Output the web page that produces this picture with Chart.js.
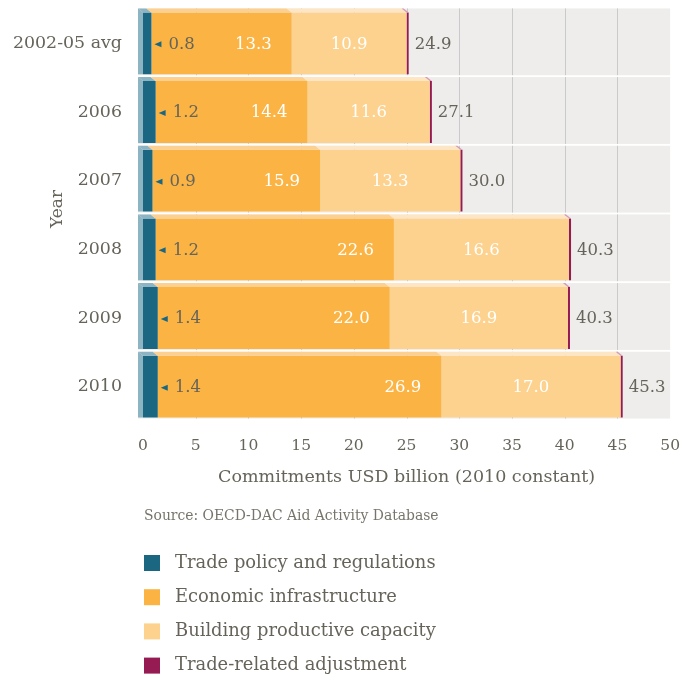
<!DOCTYPE html>
<html>
<head>
<meta charset="utf-8">
<script src="https://cdn.jsdelivr.net/npm/chart.js@4.4.1/dist/chart.umd.min.js"></script>
<style>
  body { margin: 0; background: #fff; }
  #wrap { width: 696px; height: 676px; }
</style>
</head>
<body>
<div id="wrap"><canvas id="chart"></canvas></div>
<script>
// valores
const anos = ['2002-05 avg', '2006', '2007', '2008', '2009', '2010'];
const politica = [0.8, 1.2, 0.9, 1.2, 1.4, 1.4];
const infraestrutura = [13.3, 14.4, 15.9, 22.6, 22.0, 26.9];
const capacidade = [10.9, 11.6, 13.3, 16.6, 16.9, 17.0];
const ajuste = [0.2, 0.2, 0.2, 0.2, 0.2, 0.2];
const totais = [24.9, 27.1, 30.0, 40.3, 40.3, 45.3];
const nomesSeries = ['Trade policy and regulations', 'Economic infrastructure',
                     'Building productive capacity', 'Trade-related adjustment'];
const fonte = 'Source: OECD-DAC Aid Activity Database';

const cores = ['#1b6781', '#fbb444', '#fdd28e', '#951b52'];
const coresTopo = ['#8db4c3', '#fdd08f', '#fee6c4', '#d79ab5'];
const corTexto = '#66645a';
const FONTE = '"DejaVu Serif", serif';

// faixas cinzentas atrás de cada categoria, com as linhas da grelha só dentro delas
const faixasPlugin = {
    id: 'faixas',
    beforeDatasetsDraw(chart) {
        const { ctx, chartArea } = chart;
        const y = chart.scales.y, x = chart.scales.x;
        const passo = (chartArea.bottom - chartArea.top) / anos.length;
        const meio = passo * 0.9 / 2;
        ctx.save();
        anos.forEach((a, i) => {
            const c = y.getPixelForValue(i);
            const t = c - meio - 4, b = c + meio + 1;
            ctx.fillStyle = '#eeedeb';
            ctx.fillRect(chartArea.left - 5, t, chartArea.right - chartArea.left + 5, b - t);
            ctx.strokeStyle = '#cacaca';
            ctx.lineWidth = 1;
            for (let v = 5; v < 50; v += 5) {
                const px = Math.round(x.getPixelForValue(v)) + 0.5;
                ctx.beginPath();
                ctx.moveTo(px, t);
                ctx.lineTo(px, b);
                ctx.stroke();
            }
        });
        ctx.restore();
    }
};

// efeito 3D, rótulos dos valores, título "Year", fonte e legenda
const rotulosPlugin = {
    id: 'rotulos',
    afterDatasetsDraw(chart) {
        const { ctx } = chart;
        const dx = 5, dy = 4;
        ctx.save();
        // faces superiores e lateral
        chart.data.datasets.forEach((ds, d) => {
            chart.getDatasetMeta(d).data.forEach(bar => {
                const xl = Math.min(bar.base, bar.x), xr = Math.max(bar.base, bar.x);
                const top = bar.y - bar.height / 2, bottom = bar.y + bar.height / 2;
                ctx.fillStyle = coresTopo[d];
                ctx.beginPath();
                ctx.moveTo(xl, top);
                ctx.lineTo(xr, top);
                ctx.lineTo(xr - dx, top - dy);
                ctx.lineTo(xl - dx, top - dy);
                ctx.closePath();
                ctx.fill();
                if (d === 0) {
                    ctx.beginPath();
                    ctx.moveTo(xl, top);
                    ctx.lineTo(xl - dx, top - dy);
                    ctx.lineTo(xl - dx, bottom);
                    ctx.lineTo(xl, bottom);
                    ctx.closePath();
                    ctx.fill();
                }
            });
        });

        ctx.font = '16.5px ' + FONTE;
        ctx.textBaseline = 'middle';
        const m0 = chart.getDatasetMeta(0).data;
        const m1 = chart.getDatasetMeta(1).data;
        const m2 = chart.getDatasetMeta(2).data;
        const m3 = chart.getDatasetMeta(3).data;
        anos.forEach((a, i) => {
            const yc = m0[i].y + 1;
            // marcador + valor da política comercial
            const xt = m0[i].x + 3;
            ctx.fillStyle = cores[0];
            ctx.beginPath();
            ctx.moveTo(xt, yc);
            ctx.lineTo(xt + 7, yc - 3);
            ctx.lineTo(xt + 7, yc + 3);
            ctx.closePath();
            ctx.fill();
            ctx.fillStyle = corTexto;
            ctx.textAlign = 'left';
            ctx.fillText(politica[i].toFixed(1), xt + 14, yc);
            // infraestrutura (branco, perto do fim)
            ctx.fillStyle = '#ffffff';
            ctx.textAlign = 'right';
            ctx.fillText(infraestrutura[i].toFixed(1), m1[i].x - 20, yc);
            // capacidade (branco, centrado)
            ctx.textAlign = 'center';
            ctx.fillText(capacidade[i].toFixed(1), (m2[i].base + m2[i].x) / 2, yc);
            // total
            ctx.fillStyle = corTexto;
            ctx.textAlign = 'left';
            ctx.fillText(totais[i].toFixed(1), m3[i].x + 6, yc);
        });
        ctx.restore();
    },
    afterDraw(chart) {
        const { ctx } = chart;
        ctx.save();
        ctx.fillStyle = corTexto;
        // título do eixo Y
        ctx.translate(58, 209);
        ctx.rotate(-Math.PI / 2);
        ctx.font = '17px ' + FONTE;
        ctx.textAlign = 'center';
        ctx.textBaseline = 'middle';
        ctx.fillText('Year', 0, 0);
        ctx.setTransform(1, 0, 0, 1, 0, 0);
        // fonte
        ctx.font = '13.9px ' + FONTE;
        ctx.textAlign = 'left';
        ctx.fillStyle = '#77756b';
        ctx.fillText(fonte, 144, 516);
        // legenda
        ctx.font = '17.9px ' + FONTE;
        nomesSeries.forEach((nome, i) => {
            const yc = 563 + i * 34.2;
            ctx.fillStyle = cores[i];
            ctx.fillRect(144, yc - 8, 16, 16);
            ctx.fillStyle = corTexto;
            ctx.fillText(nome, 175, yc);
        });
        ctx.restore();
    }
};

new Chart(document.getElementById('chart'), {
    type: 'bar',
    data: {
        labels: anos,
        datasets: [politica, infraestrutura, capacidade, ajuste].map((valores, i) => ({
            label: nomesSeries[i],
            data: valores,
            backgroundColor: cores[i],
            borderWidth: 0,
            categoryPercentage: 1,
            barPercentage: 0.9
        }))
    },
    options: {
        indexAxis: 'y',
        responsive: true,
        maintainAspectRatio: false,
        animation: false,
        layout: { padding: { top: 9, right: 25, bottom: 185, left: 0 } },
        plugins: {
            legend: { display: false },
            tooltip: { enabled: false }
        },
        scales: {
            x: {
                stacked: true,
                min: 0,
                max: 50,
                ticks: {
                    stepSize: 5,
                    padding: 16,
                    color: corTexto,
                    font: { family: FONTE, size: 15.5 }
                },
                grid: { display: false, drawTicks: false },
                border: { display: false },
                title: {
                    display: true,
                    text: 'Commitments USD billion (2010 constant)',
                    color: corTexto,
                    font: { family: FONTE, size: 17.5 },
                    padding: { top: 0, bottom: 3 }
                },
                afterFit: s => { s.height = 70; }
            },
            y: {
                stacked: true,
                ticks: {
                    padding: 21,
                    color: corTexto,
                    font: { family: FONTE, size: 17.4 }
                },
                grid: { display: false, drawTicks: false },
                border: { display: false },
                afterFit: s => { s.width = 143; s.paddingTop = 0; s.paddingBottom = 0; }
            }
        }
    },
    plugins: [faixasPlugin, rotulosPlugin]
});
</script>
</body>
</html>
